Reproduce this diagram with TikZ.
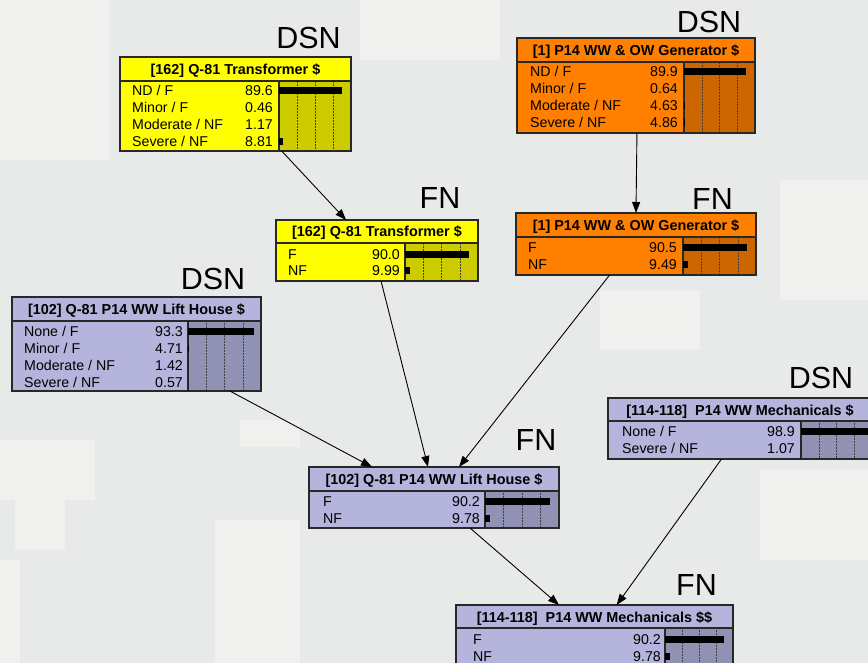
\documentclass[tikz,border=0pt]{standalone}
\usepackage{fontspec}
\setmainfont{Liberation Sans}
\usetikzlibrary{arrows.meta,calc}

\definecolor{bg}{RGB}{232,234,234}
\definecolor{bglight}{RGB}{240,241,239}
\definecolor{ylw}{RGB}{255,255,0}
\definecolor{ylwbar}{RGB}{204,204,0}
\definecolor{org}{RGB}{255,128,0}
\definecolor{orgbar}{RGB}{204,102,0}
\definecolor{lav}{RGB}{180,180,220}
\definecolor{lavbar}{RGB}{145,145,180}
\definecolor{edge}{RGB}{40,40,40}

\tikzset{
  bnbody/.style={inner sep=0pt, outer sep=0pt, anchor=north west},
  bnedge/.style={draw=edge, line width=1.2pt},
  gridline/.style={densely dotted, line width=0.5pt, draw=black!75},
  rowtxt/.style={inner sep=0pt, font=\fontsize{14.2}{16}\selectfont},
  titletxt/.style={inner sep=0pt, font=\fontsize{14.4}{16}\selectfont\bfseries},
  tag/.style={inner sep=0pt, anchor=base, font=\fontsize{30.5}{32}\selectfont},
  link/.style={draw=black, line width=0.9pt, -{Triangle[length=11pt,width=8pt]}},
}

% frame of a belief box: name, left, top, width, height, title band, fill
\newcommand{\bnframe}[7]{%
  \node[bnbody, fill=#7, minimum width=#4pt, minimum height=#5pt] (#1) at (#2,#3) {};
  \def\bnL{#2}\def\bnT{#3}\def\bnW{#4}\def\bnH{#5}\def\bnS{#6}\def\bnname{#1}%
}
% bar area: left x, width of the 100% scale, fill
\newcommand{\bnbar}[3]{%
  \fill[#3] (#1,\bnT+\bnS) rectangle (\bnL+\bnW,\bnT+\bnH);
  \foreach \f in {0.25,0.5,0.75}
    \draw[gridline] (#1+#2*\f,\bnT+\bnS) -- (#1+#2*\f,\bnT+\bnH);
  \draw[bnedge] (#1,\bnT+\bnS) -- (#1,\bnT+\bnH);
  \def\bnbx{#1}\def\bnbw{#2}%
}
% title band text and its rule
\newcommand{\bntitle}[1]{%
  \draw[bnedge] (\bnL,\bnT+\bnS) -- (\bnL+\bnW,\bnT+\bnS);
  \node[titletxt, anchor=base] at (\bnL+\bnW/2,\bnT+\bnS/2+5.5) {#1};
}
% columns: label x, right end of values
\newcommand{\bncols}[2]{\def\bnlx{#1}\def\bnvx{#2}}
% one state row: centre y, label, value, percent
\newcommand{\bnrow}[4]{%
  \node[rowtxt, anchor=base west] at (\bnlx,#1+5) {#2};
  \node[rowtxt, anchor=base east] at (\bnvx,#1+5) {#3};
  \pgfmathsetmacro\bnlen{max(0,\bnbw*#4/100-2)}
  \fill (\bnbx,#1-3.5) rectangle ++(\bnlen,7);
}
\newcommand{\bnborder}{\draw[bnedge] (\bnname.north west) rectangle (\bnname.south east);}

\begin{document}
\begin{tikzpicture}[x=1pt,y=-1pt]
  \clip (0,0) rectangle (868,663);
  % camouflage-like backdrop
  \fill[bg] (0,0) rectangle (868,663);
  \fill[bglight] (0,0) rectangle (110,160);
  \fill[bglight] (360,0) rectangle (500,60);
  \fill[bglight] (0,440) rectangle (95,500);
  \fill[bglight] (15,500) rectangle (65,550);
  \fill[bglight] (240,420) rectangle (300,447);
  \fill[bglight] (215,520) rectangle (300,663);
  \fill[bglight] (0,560) rectangle (20,663);
  \fill[bglight] (760,470) rectangle (868,560);
  \fill[bglight] (600,290) rectangle (700,350);
  \fill[bglight] (780,180) rectangle (868,300);

  % [162] Q-81 Transformer, design state
  \bnframe{tdsn}{120}{57}{231}{94}{24}{ylw}
  \bnbar{279}{72}{ylwbar}
  \bntitle{[162] Q-81 Transformer \$}
  \bncols{132}{273}
  \bnrow{91}{ND / F}{89.6}{89.6}
  \bnrow{108}{Minor / F}{0.46}{0.46}
  \bnrow{125}{Moderate / NF}{1.17}{1.17}
  \bnrow{142}{Severe / NF}{8.81}{8.81}
  \bnborder

  % [1] P14 WW & OW Generator, design state
  \bnframe{gdsn}{517}{38}{238}{95}{24}{org}
  \bnbar{684}{71}{orgbar}
  \bntitle{[1] P14 WW \& OW Generator \$}
  \bncols{530}{678}
  \bnrow{72}{ND / F}{89.9}{89.9}
  \bnrow{89}{Minor / F}{0.64}{0.64}
  \bnrow{106}{Moderate / NF}{4.63}{4.63}
  \bnrow{123}{Severe / NF}{4.86}{4.86}
  \bnborder

  % [162] Q-81 Transformer, functional state
  \bnframe{tfn}{276}{220}{202}{61}{23}{ylw}
  \bnbar{405}{73}{ylwbar}
  \bntitle{[162] Q-81 Transformer \$}
  \bncols{288}{400}
  \bnrow{255}{F}{90.0}{90.0}
  \bnrow{271}{NF}{9.99}{9.99}
  \bnborder

  % [1] P14 WW & OW Generator, functional state
  \bnframe{gfn}{516}{213}{240}{62}{24}{org}
  \bnbar{683}{73}{orgbar}
  \bntitle{[1] P14 WW \& OW Generator \$}
  \bncols{528}{677}
  \bnrow{248}{F}{90.5}{90.5}
  \bnrow{265}{NF}{9.49}{9.49}
  \bnborder

  % [102] Q-81 P14 WW Lift House, design state
  \bnframe{ldsn}{12}{297}{249}{94}{24}{lav}
  \bnbar{188}{73}{lavbar}
  \bntitle{[102] Q-81 P14 WW Lift House \$}
  \bncols{24}{183}
  \bnrow{331}{None / F}{93.3}{93.3}
  \bnrow{348}{Minor / F}{4.71}{4.71}
  \bnrow{365}{Moderate / NF}{1.42}{1.42}
  \bnrow{382}{Severe / NF}{0.57}{0.57}
  \bnborder

  % [114-118] P14 WW Mechanicals, design state
  \bnframe{mdsn}{608}{398}{264}{61}{23}{lav}
  \bnbar{801}{71}{lavbar}
  \bntitle{[114-118]\ \ P14 WW Mechanicals \$}
  \bncols{622}{795}
  \bnrow{431}{None / F}{98.9}{98.9}
  \bnrow{448}{Severe / NF}{1.07}{1.07}
  \bnborder

  % [102] Q-81 P14 WW Lift House, functional state
  \bnframe{lfn}{309}{467}{250}{61}{24}{lav}
  \bnbar{485}{74}{lavbar}
  \bntitle{[102] Q-81 P14 WW Lift House \$}
  \bncols{323}{480}
  \bnrow{501}{F}{90.2}{90.2}
  \bnrow{518}{NF}{9.78}{9.78}
  \bnborder

  % [114-118] P14 WW Mechanicals, functional state
  \bnframe{mfn}{456}{605}{277}{62}{23}{lav}
  \bnbar{665}{68}{lavbar}
  \bntitle{[114-118]\ \ P14 WW Mechanicals \$\$}
  \bncols{473}{661}
  \bnrow{639}{F}{90.2}{90.2}
  \bnrow{656}{NF}{9.78}{9.78}
  \bnborder

  % state-type tags
  \node[tag] (tagA) at (308.5,49) {DSN};
  \node[tag] (tagB) at (709,33) {DSN};
  \node[tag] (tagC) at (440,209) {FN};
  \node[tag] (tagD) at (712.5,210) {FN};
  \node[tag] (tagE) at (213,290) {DSN};
  \node[tag] (tagF) at (821,388) {DSN};
  \node[tag] (tagG) at (536,450) {FN};
  \node[tag] (tagH) at (696.5,595) {FN};

  % dependencies
  \draw[link] ($(tdsn.south west)!0.70!(tdsn.south east)$) -- ($(tfn.north west)!0.347!(tfn.north east)$);
  \draw[link] ($(gdsn.south west)!0.504!(gdsn.south east)$) -- ($(gfn.north west)!0.50!(gfn.north east)$);
  \draw[link] ($(tfn.south west)!0.52!(tfn.south east)$) -- ($(lfn.north west)!0.476!(lfn.north east)$);
  \draw[link] ($(gfn.south west)!0.39!(gfn.south east)$) -- ($(lfn.north west)!0.60!(lfn.north east)$);
  \draw[link] ($(ldsn.south west)!0.875!(ldsn.south east)$) -- ($(lfn.north west)!0.252!(lfn.north east)$);
  \draw[link] ($(lfn.south west)!0.644!(lfn.south east)$) -- ($(mfn.north west)!0.372!(mfn.north east)$);
  \draw[link] ($(mdsn.south west)!0.43!(mdsn.south east)$) -- ($(mfn.north west)!0.58!(mfn.north east)$);
\end{tikzpicture}
\end{document}
